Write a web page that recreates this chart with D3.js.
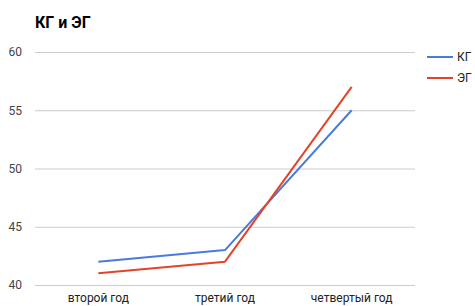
<!DOCTYPE html>
<html><head><meta charset="utf-8">
<script src="https://cdn.jsdelivr.net/npm/d3@7"></script>
<style>body{margin:0;background:#fff;font-family:Roboto,Arial,sans-serif;}</style>
</head><body><svg id="c" width="475" height="306"></svg>
<script>
const categories = ["второй год", "третий год", "четвертый год"];
const seriesKG = [42, 43, 55];
const seriesEG = [41, 42, 57];
const seriesNames = ["КГ", "ЭГ"];
const yTicks = [40, 45, 50, 55, 60];
const colors = ["#4a7bdc", "#e2442a"];

const svg = d3.select("#c");
const m = {l: 35, r: 415, t: 52, b: 285};
const x = d3.scaleBand().domain(categories).range([m.l, m.r]);
const y = d3.scaleLinear().domain([40, 60]).range([m.b, m.t]);

svg.append("text").attr("x", 35).attr("y", 28).text("КГ и ЭГ")
  .attr("font-size", 16).attr("font-weight", "bold").attr("fill", "#000");

const grid = svg.append("g");
grid.selectAll("line").data(yTicks).join("line")
  .attr("x1", m.l).attr("x2", m.r)
  .attr("y1", d => y(d) + 0.5).attr("y2", d => y(d) + 0.5)
  .attr("stroke", "#cccccc").attr("stroke-width", 1);

const yAx = svg.append("g").attr("transform", `translate(${m.l},0)`)
  .call(d3.axisLeft(y).tickValues(yTicks).tickSize(0).tickPadding(13));
yAx.select(".domain").remove();
yAx.selectAll("text").attr("font-size", 12).attr("fill", "#444").attr("font-family", "Roboto,Arial,sans-serif");

const xAx = svg.append("g").attr("transform", `translate(0,${m.b})`)
  .call(d3.axisBottom(x).tickSize(0).tickPadding(8));
xAx.select(".domain").remove();
xAx.selectAll("text").attr("font-size", 12).attr("fill", "#222").attr("font-family", "Roboto,Arial,sans-serif");

const line = d3.line().x((d, i) => x(categories[i]) + x.bandwidth() / 2).y(d => y(d));
[seriesKG, seriesEG].forEach((s, i) => {
  svg.append("path").datum(s).attr("d", line).attr("fill", "none")
    .attr("stroke", colors[i]).attr("stroke-width", 2).attr("stroke-linejoin", "round");
});

const leg = svg.append("g");
seriesNames.forEach((n, i) => {
  const ly = 57 + i * 21;
  leg.append("line").attr("x1", 427).attr("x2", 453).attr("y1", ly).attr("y2", ly)
    .attr("stroke", colors[i]).attr("stroke-width", 2);
  leg.append("text").attr("x", 457).attr("y", ly + 4).text(n)
    .attr("font-size", 12).attr("fill", "#222");
});
</script></body></html>
